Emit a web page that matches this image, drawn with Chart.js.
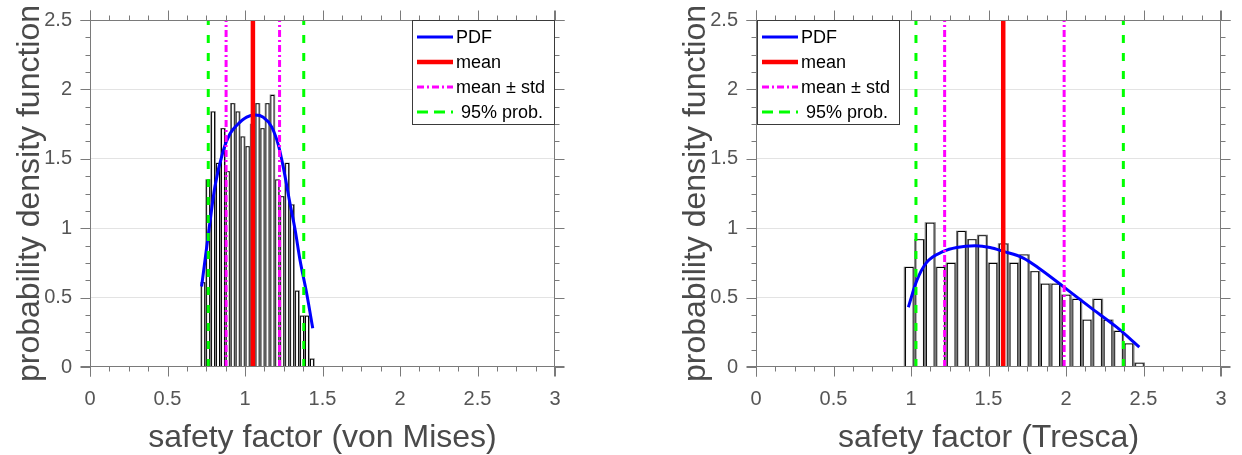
<!DOCTYPE html>
<html>
<head>
<meta charset="utf-8">
<script src="https://cdn.jsdelivr.net/npm/chart.js@4.4.0/dist/chart.umd.min.js"></script>
<style>
  body { margin: 0; background: #fff; width: 1242px; height: 455px; overflow: hidden; position: relative; }
  canvas { position: absolute; top: 0; }
  #vonMises { left: 0; }
  #tresca { left: 666px; }
</style>
</head>
<body>
<canvas id="vonMises" width="666" height="455"></canvas>
<canvas id="tresca" width="576" height="455"></canvas>
<script>
const FONT = "'Liberation Sans', Arial, sans-serif";
const AXIS_GRAY = "#7a7a7a";
const LABEL_GRAY = "#555555";
const TITLE_GRAY = "#4a4a4a";

// axis ticks
const xTicks = [0, 0.5, 1, 1.5, 2, 2.5, 3];
const yTicks = [0, 0.5, 1, 1.5, 2, 2.5];

// ---- von Mises ----
const vmBins = [0.730, 0.762, 0.794, 0.826, 0.858, 0.889, 0.921, 0.953, 0.985, 1.017, 1.049, 1.081,
    1.113, 1.145, 1.177, 1.208, 1.240, 1.272, 1.304, 1.336, 1.368, 1.400, 1.432];
const vmDensity = [0.61, 1.35, 1.84, 1.47, 1.72, 1.41, 1.90, 1.84, 1.66, 1.59, 1.75, 1.90,
    1.72, 1.90, 1.96, 1.35, 1.23, 1.47, 1.17, 0.55, 0.37, 0.37, 0.06];
const vmPdfX = [0.720, 0.770, 0.806, 0.860, 0.903, 0.946, 1.011, 1.065, 1.118, 1.172, 1.215, 1.247,
    1.290, 1.323, 1.355, 1.398, 1.437];
const vmPdfY = [0.58, 1.01, 1.30, 1.56, 1.68, 1.74, 1.80, 1.815, 1.80, 1.73, 1.60, 1.44,
    1.18, 0.99, 0.77, 0.53, 0.28];
const vmMean = 1.051;
const vmStd = [0.878, 1.223];
const vm95 = [0.763, 1.379];

// ---- Tresca ----
const trBins = [0.989, 1.056, 1.124, 1.191, 1.259, 1.326, 1.394, 1.461, 1.529, 1.596, 1.664, 1.731,
    1.799, 1.866, 1.934, 2.001, 2.069, 2.136, 2.204, 2.271, 2.339, 2.406, 2.474];
const trDensity = [0.72, 0.92, 1.04, 0.72, 0.75, 0.98, 0.92, 0.95, 0.75, 0.89, 0.75, 0.81,
    0.69, 0.60, 0.60, 0.52, 0.49, 0.34, 0.49, 0.34, 0.26, 0.17, 0.03];
const trPdfX = [0.983, 1.037, 1.101, 1.209, 1.295, 1.413, 1.510, 1.596, 1.725, 1.832, 1.983, 2.155, 2.327, 2.473];
const trPdfY = [0.431, 0.622, 0.754, 0.833, 0.861, 0.873, 0.861, 0.833, 0.785, 0.706, 0.579, 0.431, 0.287, 0.144];
const trMean = 1.595;
const trStd = [1.217, 1.988];
const tr95 = [1.032, 2.370];

// box around the plot with outward ticks on all four sides (minor ticks every 1/4 of a major step)
const frameAxes = {
    id: "frameAxes",
    afterDatasetsDraw(chart) {
        const { ctx, chartArea: a, scales: { x, y } } = chart;
        const L = a.left + 0.5, R = a.right - 0.5, T = a.top + 0.5, B = a.bottom - 0.5;
        ctx.save();
        ctx.strokeStyle = AXIS_GRAY;
        ctx.lineWidth = 1;
        ctx.beginPath();
        ctx.moveTo(L - 10, B); ctx.lineTo(R + 10, B);
        ctx.moveTo(L - 10, T); ctx.lineTo(R + 10, T);
        ctx.moveTo(L, T - 10); ctx.lineTo(L, B + 10);
        ctx.moveTo(R, T - 10); ctx.lineTo(R, B + 10);

        const tickSet = (ticks) => {
            const out = [];
            for (let i = 0; i < ticks.length; i++) {
                out.push([ticks[i], 10]);
                if (i < ticks.length - 1) {
                    const step = (ticks[i + 1] - ticks[i]) / 4;
                    for (let k = 1; k < 4; k++) out.push([ticks[i] + k * step, 5]);
                }
            }
            return out;
        };
        tickSet(xTicks).forEach(([v, len]) => {
            const px = Math.round(x.getPixelForValue(v)) + 0.5;
            ctx.moveTo(px, B); ctx.lineTo(px, B + len);
            ctx.moveTo(px, T); ctx.lineTo(px, T - len);
        });
        tickSet(yTicks).forEach(([v, len]) => {
            const py = Math.round(y.getPixelForValue(v)) + 0.5;
            ctx.moveTo(L, py); ctx.lineTo(L - len, py);
            ctx.moveTo(R, py); ctx.lineTo(R + len, py);
        });
        ctx.stroke();
        ctx.restore();
    },
};

// framed legend drawn inside the plot area
const boxLegend = {
    id: "boxLegend",
    afterDraw(chart, args, opts) {
        const { ctx, chartArea: a } = chart;
        const w = 143, h = 105;
        const left = opts.side === "left" ? a.left + 1 : a.right - w;
        const top = a.top;
        ctx.save();
        ctx.fillStyle = "#fff";
        ctx.fillRect(left, top, w, h);
        ctx.strokeStyle = "#3a3a3a";
        ctx.lineWidth = 1;
        ctx.strokeRect(left + 0.5, top + 0.5, w - 1, h - 1);
        ctx.font = "18px " + FONT;
        ctx.textBaseline = "middle";
        chart.data.datasets.filter((d) => d.legendText).forEach((d, i) => {
            const yy = top + 17 + i * 25;
            ctx.beginPath();
            ctx.strokeStyle = d.borderColor;
            ctx.lineWidth = d.borderWidth;
            ctx.setLineDash(d.legendDash || []);
            ctx.moveTo(left + 5, yy);
            ctx.lineTo(left + 41, yy);
            ctx.stroke();
            ctx.setLineDash([]);
            ctx.fillStyle = "#000";
            ctx.fillText(d.legendText, left + 44, yy + 1);
        });
        ctx.restore();
    },
};

function vline(v, color, width, dash, order, legendText, legendDash) {
    return {
        type: "line",
        data: [{ x: v, y: yTicks[0] }, { x: v, y: yTicks[yTicks.length - 1] }],
        borderColor: color,
        borderWidth: width,
        borderDash: dash,
        borderCapStyle: "butt",
        pointRadius: 0,
        fill: false,
        order: order,
        legendText: legendText,
        legendDash: legendDash || dash,
    };
}

function makeChart(id, bins, density, pdfX, pdfY, mean, std, p95, xTitle, legendSide, rightPad) {
    const bars = bins.map((b, i) => ({ x: b, y: density[i] }));
    const pdf = pdfX.map((v, i) => ({ x: v, y: pdfY[i] }));
    const dashDot = [7, 3, 2, 3];
    const dashed = [8, 10];

    return new Chart(document.getElementById(id), {
        type: "bar",
        data: {
            datasets: [
                { type: "bar", data: bars, backgroundColor: "#7a7a7a", borderWidth: 0,
                  barPercentage: 1, categoryPercentage: 1, grouped: false, order: 20 },
                { type: "bar", data: bars, backgroundColor: "#ffffff", borderColor: "#000000", borderWidth: 1,
                  barPercentage: 0.82, categoryPercentage: 1, grouped: false, order: 19 },
                { type: "line", data: pdf, borderColor: "#0000ff", borderWidth: 3, pointRadius: 0, fill: false,
                  cubicInterpolationMode: "monotone", order: 5, legendText: "PDF" },
                vline(mean, "#ff0000", 4.5, [], 4, "mean"),
                vline(std[0], "#ff00ff", 3, dashDot, 3, "mean \u00b1 std"),
                vline(std[1], "#ff00ff", 3, dashDot, 3),
                vline(p95[0], "#00ff00", 3, dashed, 2, " 95% prob.", [11, 6]),
                vline(p95[1], "#00ff00", 3, dashed, 2),
            ],
        },
        options: {
            responsive: false,
            animation: false,
            devicePixelRatio: 1,
            layout: { padding: { top: 20, right: rightPad, bottom: 0, left: 0 } },
            plugins: {
                legend: { display: false },
                tooltip: { enabled: false },
                boxLegend: { side: legendSide },
            },
            scales: {
                x: {
                    type: "linear",
                    offset: false,
                    min: xTicks[0],
                    max: xTicks[xTicks.length - 1],
                    afterBuildTicks: (s) => { s.ticks = xTicks.map((v) => ({ value: v })); },
                    afterFit: (s) => { s.height = 88; s.paddingLeft = 0; s.paddingRight = 0; },
                    grid: { display: false, drawTicks: false, offset: false },
                    border: { display: false },
                    ticks: { color: LABEL_GRAY, font: { family: FONT, size: 20 }, padding: 20, maxRotation: 0,
                             callback: (v) => String(v) },
                    title: { display: true, text: xTitle, color: TITLE_GRAY,
                             font: { family: FONT, size: 32, lineHeight: 1 }, padding: { top: 0, bottom: 1 } },
                },
                y: {
                    min: yTicks[0],
                    max: yTicks[yTicks.length - 1],
                    afterBuildTicks: (s) => { s.ticks = yTicks.map((v) => ({ value: v })); },
                    afterFit: (s) => { s.width = 90; s.paddingTop = 0; s.paddingBottom = 0; },
                    grid: {
                        drawTicks: false,
                        color: (c) => (c.tick && c.tick.value > yTicks[0] && c.tick.value < yTicks[yTicks.length - 1]) ? "#e3e3e3" : "rgba(0,0,0,0)",
                    },
                    border: { display: false },
                    ticks: { color: LABEL_GRAY, font: { family: FONT, size: 20 }, padding: 18,
                             callback: (v) => String(v) },
                    title: { display: true, text: "probability density function", color: TITLE_GRAY,
                             font: { family: FONT, size: 32, lineHeight: 1 }, padding: { top: 14, bottom: 0 } },
                },
            },
        },
        plugins: [frameAxes, boxLegend],
    });
}

makeChart("vonMises", vmBins, vmDensity, vmPdfX, vmPdfY, vmMean, vmStd, vm95,
    "safety factor (von Mises)", "right", 111);
makeChart("tresca", trBins, trDensity, trPdfX, trPdfY, trMean, trStd, tr95,
    "safety factor (Tresca)", "left", 21);
</script>
</body>
</html>
